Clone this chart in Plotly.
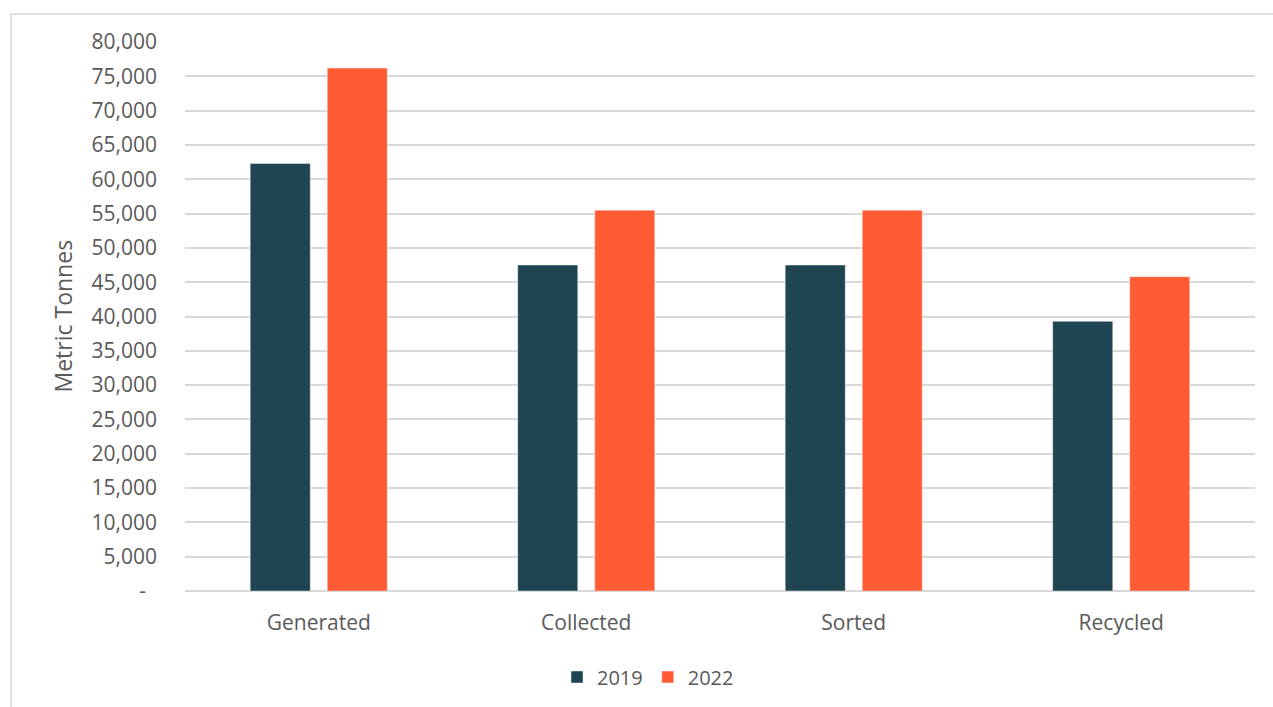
import plotly.graph_objects as go

# Waste stream stages and tonnages per year
categories = ["Generated", "Collected", "Sorted", "Recycled"]
values_2019 = [62300, 47500, 47500, 39300]
values_2022 = [76200, 55500, 55500, 45800]

tick_vals = [0, 5000, 10000, 15000, 20000, 25000, 30000, 35000, 40000,
             45000, 50000, 55000, 60000, 65000, 70000, 75000, 80000]
tick_text = ["-\u00a0\u00a0"] + [f"{v:,}" for v in tick_vals[1:]]

DARK = "#1F4452"
ORANGE = "#FF5B35"
GRID = "#D9D9D9"
TEXT = "#595959"
FONT = "Open Sans"

fig = go.Figure()
fig.add_trace(go.Bar(
    x=categories, y=values_2019, name="2019",
    marker=dict(color=DARK, line=dict(color="rgba(255,255,255,0.45)", width=1)),
))
fig.add_trace(go.Bar(
    x=categories, y=values_2022, name="2022",
    marker=dict(color=ORANGE, line=dict(color="rgba(255,255,255,0.45)", width=1)),
))

W, H = 1273, 707
L, R, T, B = 185, 18, 42, 115
pw, ph = W - L - R, H - T - B

def px_x(x):
    return (x - L) / pw

def px_y(y):
    return (H - B - y) / ph

fig.update_layout(
    width=W, height=H,
    margin=dict(l=L, r=R, t=T, b=B),
    paper_bgcolor="white", plot_bgcolor="white",
    barmode="group", bargap=0.424, bargroupgap=0.22,
    font=dict(family=FONT, size=21, color=TEXT),
    showlegend=True,
    legend=dict(
        orientation="h", x=px_x(648), xanchor="center",
        y=px_y(677), yanchor="middle",
        font=dict(family=FONT, size=20, color=TEXT),
        itemwidth=30, traceorder="normal",
    ),
    xaxis=dict(
        showgrid=False, showline=False, zeroline=False,
        ticks="", ticklabelstandoff=17,
        tickfont=dict(family=FONT, size=21, color=TEXT),
    ),
    yaxis=dict(
        range=[0, 80000], tickvals=tick_vals, ticktext=tick_text,
        showgrid=True, gridcolor=GRID, gridwidth=1.5,
        zeroline=True, zerolinecolor=GRID, zerolinewidth=1.5,
        showline=False, ticks="", ticklabelstandoff=27,
        tickfont=dict(family=FONT, size=21, color=TEXT),
    ),
    annotations=[dict(
        text="Metric Tonnes", textangle=-90,
        x=px_x(62), y=0.5, xref="paper", yref="paper",
        xanchor="center", yanchor="middle", showarrow=False,
        font=dict(family=FONT, size=23, color=TEXT),
    )],
    shapes=[dict(
        type="rect", xref="paper", yref="paper",
        x0=px_x(11), x1=px_x(1290), y0=px_y(14), y1=px_y(720),
        line=dict(color=GRID, width=1.5), fillcolor="rgba(0,0,0,0)",
        layer="below",
    )],
)

fig.write_html("out.html")
